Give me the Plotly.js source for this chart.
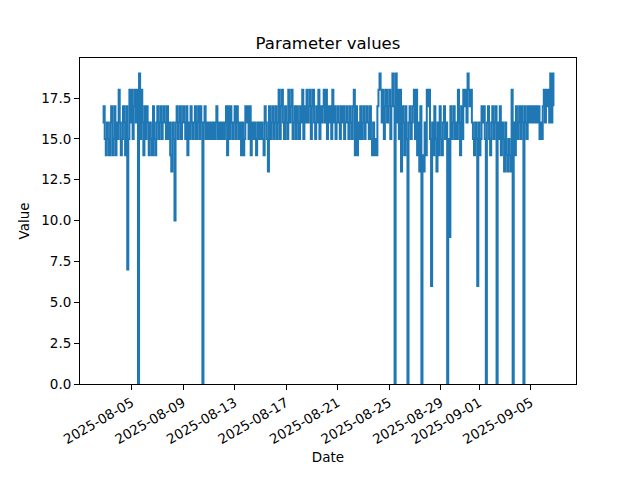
<!DOCTYPE html>
<html>
<head>
<meta charset="utf-8">
<script src="https://cdn.plot.ly/plotly-3.0.1.min.js"></script>
<style>html,body{margin:0;padding:0;background:#fff;}#chart{width:640px;height:480px;}</style>
</head>
<body>
<div id="chart"></div>
<script>
// Sampling: one reading every 2 hours starting 2025-08-02 18:00
const startTime = "2025-08-02T18:00:00Z";
const stepHours = 2;

const values = [
  16,17,15,14,16,15,14,16,17,14,
  15,17,14,16,15,18,16,14,15,17,
  16,14,17,7,15,18,16,18,15,17,
  18,16,18,0,19,15,18,16,14,17,
  15,17,16,14,16,15,14,17,15,14,
  16,17,15,16,17,15,16,17,16,15,
  17,15,16,14,13,16,15,10,16,17,
  15,16,17,15,16,17,16,15,17,14,
  16,15,17,16,15,16,17,15,16,17,
  15,17,16,0,16,17,15,16,15,16,
  15,16,15,16,15,16,17,15,16,15,
  16,15,16,15,16,17,14,17,15,17,
  16,15,16,17,15,17,16,15,16,14,
  16,14,15,17,16,17,15,17,14,16,
  15,16,15,14,16,15,16,15,16,15,
  14,17,16,15,13,17,15,16,17,15,
  16,17,15,16,18,15,17,18,16,15,
  17,16,15,18,16,17,18,15,16,17,
  15,17,16,15,17,16,18,15,17,16,
  18,16,17,18,15,17,18,16,15,17,
  16,18,15,17,16,17,18,16,18,15,
  17,16,17,15,18,16,17,15,16,17,
  16,15,17,16,17,15,16,17,16,15,
  17,16,15,17,18,14,17,14,16,15,
  17,15,16,17,15,16,17,16,15,17,
  15,14,16,14,15,14,17,18,19,18,
  16,18,15,17,18,16,17,18,15,17,
  19,17,0,19,16,18,15,18,13,17,
  16,14,17,15,0,16,17,15,16,17,
  18,15,18,14,16,13,17,0,14,13,
  16,14,18,17,18,15,6,16,14,17,
  15,13,16,14,17,15,14,16,17,15,
  16,0,15,9,17,15,16,17,15,16,
  15,18,16,14,17,15,18,17,18,16,
  19,18,17,18,16,15,14,16,15,6,
  16,14,15,17,16,17,15,0,16,17,
  15,14,16,17,15,16,17,0,16,15,
  17,14,16,15,13,16,14,13,15,14,
  13,18,0,16,14,17,15,16,17,15,
  17,16,0,17,16,15,17,16,17,16,
  17,16,17,16,17,16,17,15,16,15,
  17,18,16,18,17,18,16,19,16,19,
  17
];

const tickDates = ["2025-08-05","2025-08-09","2025-08-13","2025-08-17","2025-08-21","2025-08-25","2025-08-29","2025-09-01","2025-09-05"];
const yTicks = [0, 2.5, 5, 7.5, 10, 12.5, 15, 17.5];

const t0 = Date.parse(startTime);
const dates = values.map((v, i) => new Date(t0 + i * stepHours * 3600000).toISOString().slice(0, 19).replace('T', ' '));

const trace = {
  x: dates,
  y: values,
  type: "scatter",
  mode: "lines",
  line: {color: "#1f77b4", width: 2, shape: "hv"},
  hoverinfo: "skip"
};

const layout = {
  width: 640,
  height: 480,
  margin: {l: 80, r: 64, t: 58, b: 96},
  paper_bgcolor: "#fff",
  plot_bgcolor: "#fff",
  font: {family: "DejaVu Sans", size: 14, color: "#000"},
  showlegend: false,
  title: {text: "Parameter values", font: {family: "DejaVu Sans", size: 16.5, color: "#000"}, x: 0.5, xref: "paper", xanchor: "center", y: 1 - 43/480, yref: "container", yanchor: "middle"},
  xaxis: {
    type: "date",
    range: ["2025-08-01 00:00", "2025-09-08 12:00"],
    tickvals: tickDates,
    ticktext: tickDates,
    tickangle: -30,
    ticks: "outside", ticklen: 5, tickwidth: 1, tickcolor: "#000",
    showline: true, linecolor: "#000", linewidth: 1, mirror: true,
    showgrid: false, zeroline: false,
    tickfont: {family: "DejaVu Sans", size: 13.5, color: "#000"},
    title: {text: "Date", font: {family: "DejaVu Sans", size: 13.5, color: "#000"}, standoff: 6},
    automargin: false
  },
  yaxis: {
    range: [0, 19.95],
    tickvals: yTicks,
    tickformat: ".1f",
    ticks: "outside", ticklen: 5, tickwidth: 1, tickcolor: "#000",
    showline: true, linecolor: "#000", linewidth: 1, mirror: true,
    showgrid: false, zeroline: false,
    tickfont: {family: "DejaVu Sans", size: 13.5, color: "#000"},
    title: {text: "Value", font: {family: "DejaVu Sans", size: 13.5, color: "#000"}, standoff: 8},
    automargin: false
  }
};

Plotly.newPlot("chart", [trace], layout, {displayModeBar: false, staticPlot: true});
</script>
</body>
</html>
